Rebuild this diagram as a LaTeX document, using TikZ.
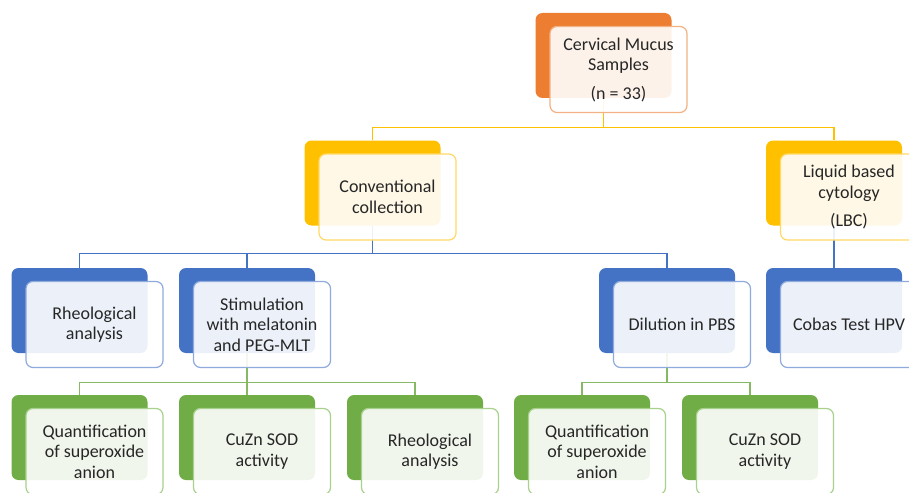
\documentclass[tikz,border=0pt]{standalone}
\usepackage{fontspec}
\usepackage{tikz}
\usetikzlibrary{positioning}
\newfontfamily\calibri{Carlito}
\definecolor{cmOrange}    {RGB}{237,125, 49}
\definecolor{cmOrangeLine}{RGB}{244,177,131}
\definecolor{cmYellow}    {RGB}{255,192,  0}
\definecolor{cmYellowLine}{RGB}{255,217,102}
\definecolor{cmBlue}      {RGB}{ 68,114,196}
\definecolor{cmBlueLine}  {RGB}{143,170,220}
\definecolor{cmGreen}     {RGB}{112,173, 71}
\definecolor{cmGreenLine} {RGB}{169,209,142}
\begin{document}
\begin{tikzpicture}[x=1pt,y=-1pt,
          backbox/.style={rectangle,rounded corners=7pt,fill=#1,draw=none,
                          minimum width=136pt,minimum height=85pt},
          frontbox/.style={rectangle,rounded corners=7pt,draw=#1,line width=1.2pt,
                           fill=white,fill opacity=0.9,text opacity=1,
                           minimum width=137pt,minimum height=86pt,align=center,
                           text=black!85,font=\calibri\fontsize{18}{20.5}\selectfont},
          bus/.style={line width=1.1pt},
        ]
        \useasboundingbox (0,0) rectangle (909,492);
        \clip (0,0) rectangle (909,492);
        % Fundos
        \node[backbox=cmOrange] (cms-b)    at (603.5, 55.5){};
        \node[backbox=cmYellow] (conv-b)   at (372.5,183){};
        \node[backbox=cmYellow] (lbc-b)    at (834,183){};
        \node[backbox=cmBlue]   (rheoA-b)  at (79.5,310.5){};
        \node[backbox=cmBlue]   (stim-b)   at (247,310.5){};
        \node[backbox=cmBlue]   (dil-b)    at (667,310.5){};
        \node[backbox=cmBlue]   (cobas-b)  at (834,310.5){};
        \node[backbox=cmGreen]  (quantA-b) at (79.5,437.5){};
        \node[backbox=cmGreen]  (sodA-b)   at (247,437.5){};
        \node[backbox=cmGreen]  (rheoB-b)  at (415,437.5){};
        \node[backbox=cmGreen]  (quantB-b) at (582,437.5){};
        \node[backbox=cmGreen]  (sodB-b)   at (750,437.5){};
        % Ligacoes
        \foreach \a/\b in {cms/conv,cms/lbc}{
          \draw[bus,cmYellow] (\a-b.south) -- ++(0,29) -| (\b-b.north);
        }
        \foreach \a/\b in {conv/rheoA,conv/stim,conv/dil}{
          \draw[bus,cmBlue] (\a-b.south) -- ++(0,28) -| (\b-b.north);
        }
        \draw[bus,cmBlue] (lbc-b.south) -- (cobas-b.north);
        \foreach \a/\b in {stim/quantA,stim/sodA,stim/rheoB,dil/quantB,dil/sodB}{
          \draw[bus,cmGreen!85] (\a-b.south) -- ++(0,29) -| (\b-b.north);
        }
        % Caixas
        \node[frontbox=cmOrangeLine] (cms) at ([shift={(15,14)}]cms-b.center)
             {Cervical Mucus\\Samples\\[8pt](n = 33)};
        \node[frontbox=cmYellowLine] (conv) at ([shift={(15,14)}]conv-b.center)
             {Conventional\\collection};
        \node[frontbox=cmYellowLine] (lbc) at ([shift={(15,14)}]lbc-b.center)
             {Liquid based\\cytology\\[8pt](LBC)};
        \node[frontbox=cmBlueLine] (rheoA) at ([shift={(15,14)}]rheoA-b.center)
             {Rheological\\analysis};
        \node[frontbox=cmBlueLine] (stim) at ([shift={(15,14)}]stim-b.center)
             {Stimulation\\with melatonin\\and PEG-MLT};
        \node[frontbox=cmBlueLine] (dil) at ([shift={(15,14)}]dil-b.center)
             {Dilution in PBS};
        \node[frontbox=cmBlueLine] (cobas) at ([shift={(15,14)}]cobas-b.center)
             {Cobas Test HPV};
        \node[frontbox=cmGreenLine] (quantA) at ([shift={(15,14)}]quantA-b.center)
             {Quantification\\of superoxide\\anion};
        \node[frontbox=cmGreenLine] (sodA) at ([shift={(15,14)}]sodA-b.center)
             {CuZn SOD\\activity};
        \node[frontbox=cmGreenLine] (rheoB) at ([shift={(15,14)}]rheoB-b.center)
             {Rheological\\analysis};
        \node[frontbox=cmGreenLine] (quantB) at ([shift={(15,14)}]quantB-b.center)
             {Quantification\\of superoxide\\anion};
        \node[frontbox=cmGreenLine] (sodB) at ([shift={(15,14)}]sodB-b.center)
             {CuZn SOD\\activity};
      \end{tikzpicture}
\end{document}
